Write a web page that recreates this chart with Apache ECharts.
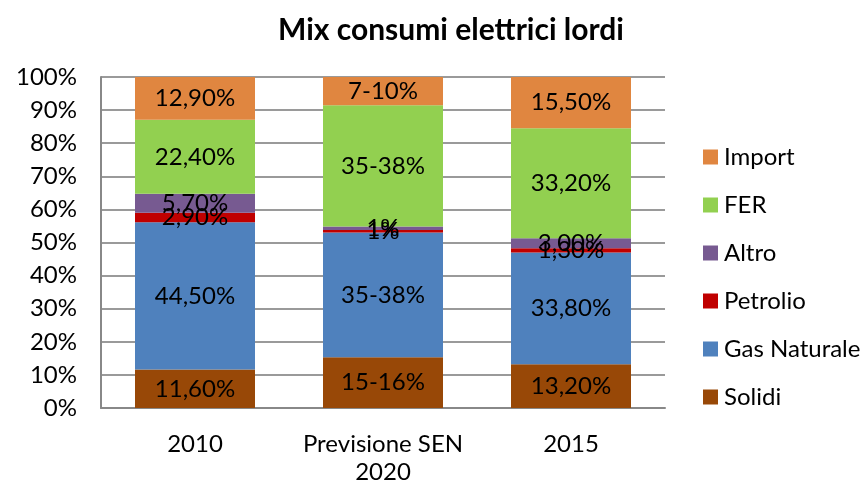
<!DOCTYPE html>
<html>
<head>
<meta charset="utf-8">
<script src="https://cdn.jsdelivr.net/npm/echarts@6/dist/echarts.min.js"></script>
<style>
  html, body { margin: 0; padding: 0; background: #fff; }
  #mixChart { width: 868px; height: 484px; }
</style>
</head>
<body>
<div id="mixChart"></div>
<script>
// categorie sull'asse x
var categories = ['2010', 'Previsione SEN\n2020', '2015'];

// valori (%), dal basso verso l'alto
var solidi = [11.6, 15.3, 13.2];
var gasNaturale = [44.5, 37.7, 33.8];
var petrolio = [2.9, 0.8, 1.3];
var altro = [5.7, 1.0, 3.0];
var fer = [22.4, 36.7, 33.2];
var importVal = [12.9, 8.5, 15.5];

// etichette mostrate sulle barre
var solidiLabels = ['11,60%', '15-16%', '13,20%'];
var gasLabels = ['44,50%', '35-38%', '33,80%'];
var petrolioLabels = ['2,90%', '1%', '1,30%'];
var altroLabels = ['5,70%', '1%', '3,00%'];
var ferLabels = ['22,40%', '35-38%', '33,20%'];
var importLabels = ['12,90%', '7-10%', '15,50%'];

var yTicks = [0, 10, 20, 30, 40, 50, 60, 70, 80, 90, 100];

var font = 'Lato, "Open Sans", sans-serif';

var seriesList = [
    { name: 'Solidi', data: solidi, labels: solidiLabels, color: '#984807' },
    { name: 'Gas Naturale', data: gasNaturale, labels: gasLabels, color: '#4F81BD' },
    { name: 'Petrolio', data: petrolio, labels: petrolioLabels, color: '#C00000' },
    { name: 'Altro', data: altro, labels: altroLabels, color: '#775A91' },
    { name: 'FER', data: fer, labels: ferLabels, color: '#92D050' },
    { name: 'Import', data: importVal, labels: importLabels, color: '#E08640' }
];

var options = {
    animation: false,
    textStyle: { fontFamily: font },
    title: {
        text: 'Mix consumi elettrici lordi',
        left: 446,
        top: 10,
        textAlign: 'center',
        textStyle: { fontFamily: font, fontSize: 30, fontWeight: 'bold', color: '#000' }
    },
    grid: { left: 101, right: 203, top: 77, bottom: 76, outerBoundsMode: 'none' },
    legend: {
        orient: 'vertical',
        left: 703,
        top: 145,
        padding: 0,
        itemWidth: 15,
        itemHeight: 15,
        itemGap: 24,
        icon: 'rect',
        data: ['Import', 'FER', 'Altro', 'Petrolio', 'Gas Naturale', 'Solidi'],
        textStyle: { fontFamily: font, fontSize: 24, color: '#000', lineHeight: 24, padding: [0, 0, 0, 1] }
    },
    xAxis: {
        type: 'category',
        data: categories,
        axisLine: { lineStyle: { color: '#888', width: 2 } },
        axisTick: { show: false },
        axisLabel: { interval: 0, fontFamily: font, fontSize: 24, color: '#000', lineHeight: 28, margin: 22 }
    },
    yAxis: {
        type: 'value',
        min: 0,
        max: 100,
        interval: 10,
        axisLine: { show: true, lineStyle: { color: '#888', width: 2 } },
        axisTick: { show: false },
        splitLine: { lineStyle: { color: '#9a9a9a', width: 2 } },
        axisLabel: {
            fontFamily: font, fontSize: 24, color: '#000', margin: 24,
            formatter: function (v) { return yTicks.indexOf(v) >= 0 ? v + '%' : ''; }
        }
    },
    series: []
};

seriesList.map(function (s) {
    options.series.push({
        name: s.name,
        type: 'bar',
        stack: 'mix',
        barWidth: 120,
        data: s.data,
        itemStyle: { color: s.color },
        label: {
            show: true,
            position: 'inside',
            fontFamily: font,
            fontSize: 24,
            color: '#000',
            formatter: function (p) { return s.labels[p.dataIndex]; }
        }
    });
});

var chart = echarts.init(document.getElementById('mixChart'));
chart.setOption(options);
</script>
</body>
</html>
